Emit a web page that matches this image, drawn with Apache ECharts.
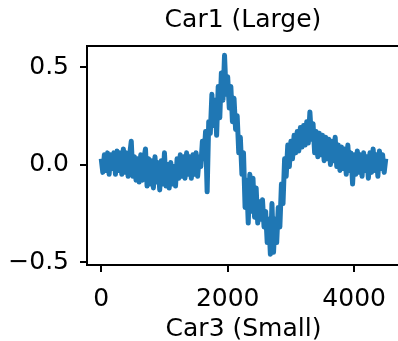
<!DOCTYPE html>
<html>
<head>
<meta charset="utf-8">
<script src="https://cdn.jsdelivr.net/npm/echarts@6/dist/echarts.min.js"></script>
<style>
  html, body { margin: 0; padding: 0; background: #fff; }
  #main { width: 398px; height: 341px; }
</style>
</head>
<body>
<div id="main"></div>
<script>
// signal, one sample every 25 steps (0 .. 4500)
const sampleStep = 25;
const signal = [
  0.03, -0.04, 0.05, -0.03, 0.06, -0.05, 0.05, -0.02, 0.06, -0.05,
  0.07, -0.03, 0.06, -0.05, 0.08, -0.04, 0.06, -0.06, 0.05, 0.12,
  -0.06, 0.04, -0.08, 0.03, -0.09, 0.05, -0.08, 0.03, 0.08, -0.11,
  0.03, -0.10, 0.02, -0.12, 0.04, -0.09, 0.01, -0.13, 0.02, -0.10,
  0.06, -0.11, 0.00, -0.12, 0.01, -0.10, -0.01, -0.11, 0.03, -0.07,
  0.05, -0.06, 0.04, -0.07, 0.06, -0.05, 0.04, -0.07, 0.05, -0.05,
  0.06, -0.06, 0.04, -0.01, 0.12, 0.03, 0.17, -0.14, 0.22, 0.16,
  0.36, 0.20, 0.33, 0.15, 0.40, 0.24, 0.47, 0.33, 0.56, 0.36,
  0.45, 0.29, 0.40, 0.22, 0.34, 0.18, 0.25, 0.06, 0.14, -0.05,
  0.06, -0.22, -0.08, -0.30, -0.05, -0.24, -0.07, -0.27, -0.12, -0.30,
  -0.19, -0.28, -0.18, -0.32, -0.24, -0.40, -0.28, -0.46, -0.20, -0.45,
  -0.28, -0.40, -0.22, -0.32, -0.10, -0.20, 0.03, -0.06, 0.10, -0.01,
  0.12, 0.03, 0.15, 0.06, 0.17, 0.07, 0.19, 0.09, 0.20, 0.10,
  0.22, 0.11, 0.27, 0.13, 0.21, 0.06, 0.17, 0.04, 0.16, 0.05,
  0.15, 0.02, 0.14, 0.03, 0.13, 0.00, 0.12, 0.02, 0.14, -0.01,
  0.10, -0.03, 0.09, -0.02, 0.08, -0.05, 0.10, -0.03, 0.06, -0.10,
  0.05, -0.05, 0.07, -0.04, 0.05, -0.06, 0.06, -0.03, 0.04, -0.07,
  0.06, -0.04, 0.08, -0.03, 0.05, -0.06, 0.07, -0.02, 0.05, -0.04,
  0.03
];
const xTicks = [0, 2000, 4000];
const yTicks = [-0.5, 0, 0.5];

const font = 'DejaVu Sans';
const points = signal.map((v, i) => [i * sampleStep, v]);

const chart = echarts.init(document.getElementById('main'), null, { renderer: 'canvas' });

const option = {
  animation: false,
  grid: {
    left: 87,
    width: 313,
    top: 46,
    bottom: 76,
    outerBoundsMode: 'none',
    show: true,
    borderColor: '#000',
    borderWidth: 2
  },
  graphic: [
    {
      type: 'text',
      x: 243,
      y: 20,
      style: {
        text: 'Car1 (Large)',
        font: '25px "DejaVu Sans"',
        fill: '#000',
        textAlign: 'center',
        textVerticalAlign: 'middle'
      }
    }
  ],
  xAxis: {
    type: 'value',
    min: -225,
    max: 4725,
    name: 'Car3 (Small)',
    nameLocation: 'middle',
    nameGap: 47,
    nameTextStyle: { fontFamily: font, fontSize: 25, color: '#000' },
    axisLine: { onZero: false, lineStyle: { color: '#000', width: 2 } },
    axisTick: { customValues: xTicks, length: 7, lineStyle: { color: '#000', width: 2 } },
    axisLabel: {
      customValues: xTicks,
      margin: 22,
      fontFamily: font,
      fontSize: 25,
      color: '#000',
      formatter: v => String(v)
    },
    splitLine: { show: false }
  },
  yAxis: {
    type: 'value',
    min: -0.515,
    max: 0.608,
    axisLine: { show: true, onZero: false, lineStyle: { color: '#000', width: 2 } },
    axisTick: { show: true, customValues: yTicks, length: 7, lineStyle: { color: '#000', width: 2 } },
    axisLabel: {
      customValues: yTicks,
      margin: 18,
      fontFamily: font,
      fontSize: 25,
      color: '#000',
      formatter: v => (v < 0 ? '\u2212' : '') + Math.abs(v).toFixed(1)
    },
    splitLine: { show: false }
  },
  series: [
    {
      type: 'line',
      data: points,
      showSymbol: false,
      lineStyle: { color: '#1f77b4', width: 5, join: 'round' }
    }
  ]
};

option && chart.setOption(option);
</script>
</body>
</html>
